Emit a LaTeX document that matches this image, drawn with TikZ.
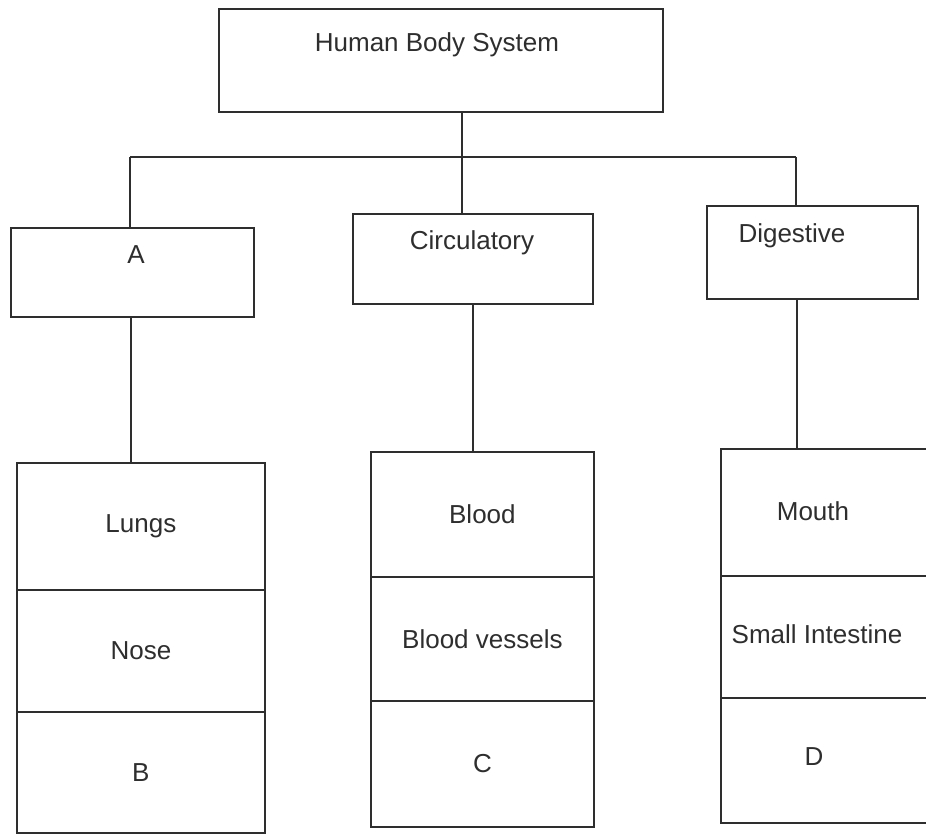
\documentclass[tikz,border=0pt]{standalone}
\usepackage{fontspec}
\setmainfont{Liberation Sans}
\definecolor{ink}{HTML}{2E2E2E}
\begin{document}
\begin{tikzpicture}[x=1pt,y=-1pt,
  wire/.style={draw=ink, line width=1.6pt},
  box/.style={draw=ink, line width=1.8pt, rectangle, inner sep=0pt, anchor=north west},
  cell/.style={box, text=ink, font=\fontsize{26}{30}\selectfont},
  lbl/.style={text=ink, font=\fontsize{26}{30}\selectfont, inner sep=0pt},
]
\useasboundingbox (0,0) rectangle (926,835);
\clip (0,0) rectangle (926,835);
\fill[white] (0,0) rectangle (926,835);

% top
\node[box, minimum width=444pt, minimum height=103pt] (top) at (218,8) {};
\node[lbl] (toptxt) at (437,45) {Human Body System};

% junction bar
\coordinate (jl) at (130,157);
\coordinate (jm) at (462,157);
\coordinate (jr) at (796,157);
\draw[wire] (jl) -- (jr);
\draw[wire] (jm |- top.south) -- (jm);

% second row
\node[box, minimum width=243pt, minimum height=89pt] (A) at (10,227) {};
\node[lbl] (Atxt) at (136,255) {A};
\node[box, minimum width=240pt, minimum height=90pt] (circ) at (352,213) {};
\node[lbl] (ctxt) at (472,243) {Circulatory};
\node[box, minimum width=211pt, minimum height=93pt] (dig) at (706,205) {};
\node[lbl] (dtxt) at (792,236) {Digestive};

\draw[wire] (jl) -- (jl |- A.north);
\draw[wire] (jm) -- (jm |- circ.north);
\draw[wire] (jr) -- (jr |- dig.north);

% lower stacks
\node[cell, minimum width=248pt, minimum height=127pt] (L1) at (16,462) {Lungs};
\node[cell, minimum width=248pt, minimum height=122pt] (L2) at (16,589) {Nose};
\node[cell, minimum width=248pt, minimum height=121pt] (L3) at (16,711) {B};

\node[cell, minimum width=223pt, minimum height=125pt] (M1) at (370,451) {Blood};
\node[cell, minimum width=223pt, minimum height=124pt] (M2) at (370,576) {Blood vessels};
\node[cell, minimum width=223pt, minimum height=126pt] (M3) at (370,700) {C};

\node[box, minimum width=230pt, minimum height=127pt] (R1) at (720,448) {};
\node[box, minimum width=230pt, minimum height=122pt] (R2) at (720,575) {};
\node[box, minimum width=230pt, minimum height=125pt] (R3) at (720,697) {};
\node[lbl] (r1t) at (813,511) {Mouth};
\node[lbl] (r2t) at (817,634) {Small Intestine};
\node[lbl] (r3t) at (814,757) {D};

\coordinate (dl) at (131,0);
\coordinate (dm) at (473,0);
\coordinate (dr) at (797,0);
\draw[wire] (dl |- A.south) -- (dl |- L1.north);
\draw[wire] (dm |- circ.south) -- (dm |- M1.north);
\draw[wire] (dr |- dig.south) -- (dr |- R1.north);
\end{tikzpicture}
\end{document}
